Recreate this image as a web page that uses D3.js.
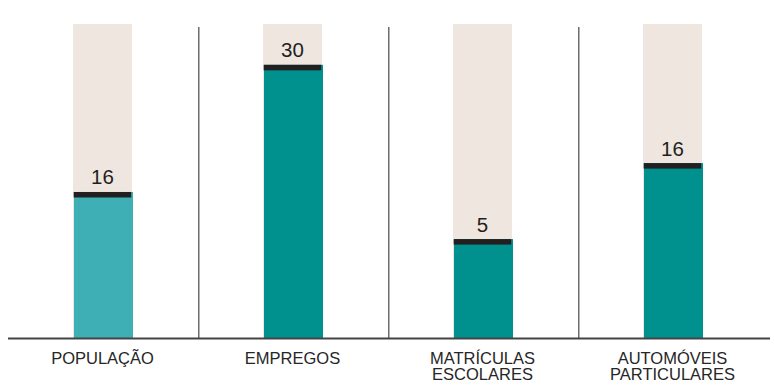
<!DOCTYPE html>
<html><head><meta charset="utf-8">
<script src="https://cdn.jsdelivr.net/npm/d3@7"></script>
<style>
html,body{margin:0;padding:0;background:#fff;}
svg{display:block;}
text{font-family:"Liberation Sans",Arial,sans-serif;}
</style></head>
<body>
<svg id="chart" width="774" height="391"></svg>
<script>
// Data
const categories = [["POPULAÇÃO"], ["EMPREGOS"], ["MATRÍCULAS", "ESCOLARES"], ["AUTOMÓVEIS", "PARTICULARES"]];
const shareValues = [46.5, 87, 31.5, 55.7];      // bar height (share of full column)
const valueLabels = ["16", "30", "5", "16"];
const barColors = ["#3dafb5", "#00918e", "#00918e", "#00918e"];

const W = 774, H = 391;
const svg = d3.select("#chart");
const baseY = 338, topY = 24;
const x = d3.scaleBand().domain(d3.range(categories.length)).range([7.5, 767.5]).padding(0);
const y = d3.scaleLinear().domain([0, 100]).range([baseY, topY]);
const bw = 59;
const off = (x.bandwidth() - bw) / 2;

// background columns
svg.selectAll("rect.bg").data(categories).join("rect")
  .attr("class", "bg")
  .attr("x", (d, i) => x(i) + off)
  .attr("y", y(100))
  .attr("width", bw)
  .attr("height", baseY - y(100))
  .attr("fill", "#efe6e0");

// separators
svg.selectAll("line.sep").data(d3.range(1, categories.length)).join("line")
  .attr("class", "sep")
  .attr("x1", i => x(i) + 1.3).attr("x2", i => x(i) + 1.3)
  .attr("y1", 27).attr("y2", baseY)
  .attr("stroke", "#555").attr("stroke-width", 1.3);

// bars
svg.selectAll("rect.bar").data(shareValues).join("rect")
  .attr("class", "bar")
  .attr("x", (d, i) => x(i) + off + 1)
  .attr("y", d => y(d))
  .attr("width", bw)
  .attr("height", d => baseY - y(d))
  .attr("fill", (d, i) => barColors[i]);

// caps
svg.selectAll("rect.cap").data(shareValues).join("rect")
  .attr("class", "cap")
  .attr("x", (d, i) => x(i) + off + 0.7)
  .attr("y", d => y(d))
  .attr("width", bw - 1.5)
  .attr("height", 5.5)
  .attr("fill", "#231f20");

// value labels
svg.selectAll("text.val").data(shareValues).join("text")
  .attr("class", "val")
  .attr("x", (d, i) => x(i) + x.bandwidth() / 2)
  .attr("y", d => y(d) - 7.5)
  .attr("text-anchor", "middle")
  .attr("font-size", 20.5)
  .attr("fill", "#231f20")
  .text((d, i) => valueLabels[i]);

// baseline
svg.append("line")
  .attr("x1", 8).attr("x2", 770)
  .attr("y1", baseY + 0.5).attr("y2", baseY + 0.5)
  .attr("stroke", "#444").attr("stroke-width", 2);

// category labels
const cat = svg.selectAll("text.cat").data(categories).join("text")
  .attr("class", "cat")
  .attr("text-anchor", "middle")
  .attr("font-size", 16.5)
  .attr("fill", "#262626");
cat.selectAll("tspan").data((d, i) => d.map(t => ({t, i}))).join("tspan")
  .attr("x", d => x(d.i) + x.bandwidth() / 2)
  .attr("y", (d, j) => 363.5 + j * 16.8)
  .text(d => d.t);
</script>
</body></html>
